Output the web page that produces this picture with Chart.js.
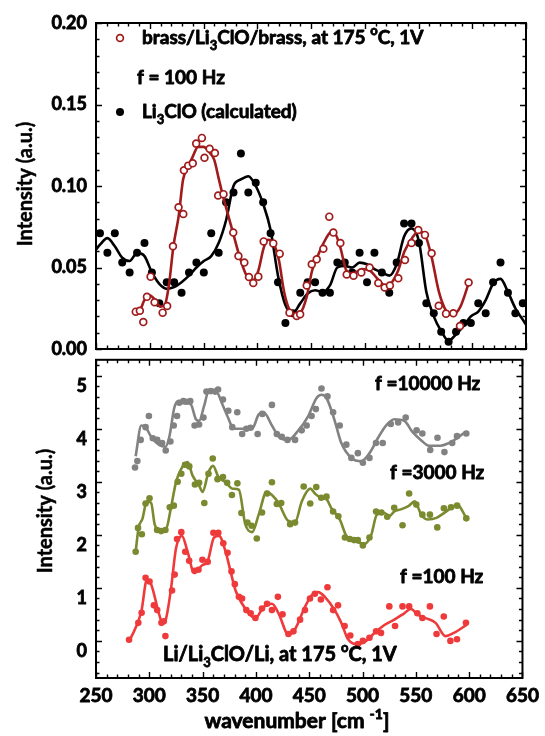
<!DOCTYPE html>
<html><head><meta charset="utf-8">
<script src="https://cdn.jsdelivr.net/npm/chart.js@4.4.1/dist/chart.umd.min.js"></script>
<style>
html,body{margin:0;padding:0;background:#fff;}
#wrap{position:relative;width:545px;height:736px;overflow:hidden;background:#fff;}
canvas{position:absolute;left:0;}
</style>
</head><body>
<div id="wrap">
<canvas id="top" width="545" height="370" style="top:0px"></canvas>
<canvas id="bot" width="545" height="396" style="top:340px"></canvas>
</div>
<script>
// ---------------- data ----------------
const xTicks = [250, 300, 350, 400, 450, 500, 550, 600, 650];
const xTickLabels = ['250', '300', '350', '400', '450', '500', '550', '600', '650'];
const yTopTicks = [0, 0.05, 0.10, 0.15, 0.20];
const yTopLabels = ['0.00', '0.05', '0.10', '0.15', '0.20'];
const yBotTicks = [0, 1, 2, 3, 4, 5];
const yBotLabels = ['0', '1', '2', '3', '4', '5'];

// top panel: Li3ClO (calculated) - black dots
const calcX = [253.7,260.6,267.5,274.4,281.3,288.2,295.1,302.0,308.9,315.8,322.7,329.6,336.5,343.4,350.3,357.2,364.1,371.0,377.9,384.8,391.7,398.6,405.5,412.4,419.3,426.2,433.1,440.0,446.9,453.8,460.7,467.6,474.5,481.4,488.3,495.2,502.1,509.0,515.9,522.8,529.7,536.6,543.5,550.4,557.3,564.2,571.1,578.0,584.9,591.8,598.7,605.6,612.5,619.4,626.3,633.2,640.1,647.0];
const calcY = [0.071,0.059,0.071,0.053,0.047,0.059,0.065,0.047,0.028,0.041,0.041,0.0345,0.047,0.053,0.047,0.071,0.059,0.090,0.096,0.120,0.096,0.102,0.090,0.071,0.041,0.016,0.022,0.0345,0.041,0.041,0.0345,0.0345,0.053,0.053,0.047,0.059,0.041,0.059,0.047,0.0345,0.053,0.077,0.077,0.065,0.028,0.022,0.0106,0.0045,0.0106,0.016,0.016,0.028,0.022,0.041,0.053,0.0345,0.022,0.028];
const calcFitX = [250,253.7,260.6,267.5,274.4,281.3,288.2,295.1,302.0,308.9,315.8,322.7,329.6,336.5,343.4,350.3,357.2,364.1,371.0,377.9,384.8,391.7,398.6,405.5,412.4,419.3,426.2,433.1,440.0,446.9,453.8,460.7,467.6,474.5,481.4,488.3,495.2,502.1,509.0,515.9,522.8,529.7,536.6,543.5,550.4,557.3,564.2,571.1,578.0,584.9,591.8,598.7,605.6,612.5,619.4,626.3,633.2,640.1,647.0,650];
const calcFitY = [0.061,0.064,0.068,0.063,0.056,0.054,0.059,0.057,0.047,0.040,0.037,0.038,0.041,0.045,0.050,0.054,0.057,0.065,0.079,0.100,0.104,0.106,0.100,0.089,0.073,0.045,0.027,0.022,0.028,0.034,0.036,0.035,0.039,0.050,0.051,0.050,0.053,0.052,0.049,0.047,0.045,0.052,0.069,0.074,0.066,0.035,0.020,0.011,0.005,0.009,0.014,0.020,0.023,0.030,0.040,0.043,0.035,0.025,0.018,0.015];

// top panel: brass/Li3ClO/brass - open red circles
const brassX = [287.0,290.8,294.0,297.4,300.8,304.5,312.0,316.2,321.6,326.8,331.2,331.8,335.8,340.0,343.2,348.5,350.9,355.7,360.6,363.6,368.6,377.7,382.5,388.0,392.3,396.3,401.0,406.0,414.9,420.9,430.0,436.7,439.9,446.0,450.7,455.3,461.5,467.0,470.8,477.3,483.2,489.6,496.8,504.5,512.6,518.5,523.4,531.2,537.4,543.5,549.8,556.0,562.2,568.8,575.6,582.4,588.6,596.6];
const brassY = [0.0229,0.0235,0.0165,0.032,0.0444,0.0287,0.0223,0.0264,0.063,0.087,0.0828,0.1097,0.1125,0.1139,0.126,0.1295,0.1173,0.1228,0.1202,0.0942,0.095,0.0714,0.057,0.053,0.0442,0.0405,0.0444,0.066,0.0648,0.0585,0.0223,0.0203,0.0213,0.039,0.052,0.055,0.0615,0.0812,0.0714,0.065,0.0457,0.045,0.047,0.050,0.0405,0.0377,0.039,0.0434,0.0546,0.065,0.073,0.070,0.0587,0.0265,0.0217,0.0219,0.0141,0.0408];
const brassFitX = [287,291,295,300,305,310,314,318,322,327,331,336,340,345,350,355,360,364,368,373,378,383,388,392,396,401,406,410,415,420,425,430,436,440,446,451,455,461,467,471,477,483,489,497,505,512,519,524,531,537,544,550,556,562,569,576,582,589,597];
const brassFitY = [0.023,0.024,0.030,0.033,0.030,0.026,0.027,0.040,0.063,0.082,0.104,0.112,0.118,0.124,0.124,0.121,0.116,0.105,0.094,0.082,0.070,0.058,0.048,0.043,0.042,0.048,0.062,0.067,0.065,0.055,0.035,0.024,0.021,0.022,0.032,0.048,0.055,0.064,0.071,0.072,0.063,0.048,0.046,0.049,0.048,0.043,0.039,0.040,0.048,0.060,0.068,0.072,0.070,0.057,0.035,0.023,0.021,0.026,0.041];

// bottom panel: f = 10000 Hz (grey)
const tenX = [286.6,288.8,291.9,296.5,299.6,303.3,307.4,312.0,315.4,319.8,322.9,326.0,328.1,331.9,334.4,338.4,342.5,346.7,350.8,353.6,357.6,361.6,364.5,369.1,374.1,377.8,382.5,387.1,391.0,394.9,401.6,406.0,415.0,419.6,424.3,429.6,436.7,442.9,447.6,452.2,456.2,461.5,467.1,472.4,478.6,484.8,489.5,495.6,500.3,506.5,512.6,518.9,526.5,533.4,540.5,550.7,556.1,563.5,570.3,576.8,584.1,588.6,597.3];
const tenY = [3.47,3.59,3.99,4.23,4.44,4.02,3.99,3.93,3.79,3.96,4.26,4.44,4.69,4.72,4.71,4.72,4.26,4.28,4.41,4.90,4.91,4.90,4.94,4.75,4.54,4.23,4.51,4.10,4.20,4.22,4.10,4.48,4.65,4.10,4.05,3.99,3.99,4.17,4.26,4.44,4.57,4.96,4.81,4.51,4.26,3.90,3.65,3.74,3.56,3.65,3.93,3.93,4.29,4.32,4.41,4.17,4.11,3.80,4.03,3.76,3.93,4.06,4.11];
const tenFitX = [287.2,292.5,296.5,301.7,309.5,315.1,318.8,323.5,327.5,334.4,339.0,343.7,346.7,351.4,355.5,363.8,368.5,373.2,379.4,387.1,396.4,402.6,407.3,415.0,422.8,430.5,439.8,449.1,456.9,461.5,466.2,473.9,480.1,489.5,498.8,506.5,514.3,522.0,529.8,539.1,546.8,554.6,562.3,573.2,580.9,588.7,596.4];
const tenFitY = [3.68,4.26,4.23,4.05,3.89,3.86,4.05,4.60,4.72,4.69,4.66,4.38,4.35,4.63,4.90,4.87,4.66,4.44,4.20,4.20,4.20,4.47,4.51,4.26,4.02,3.99,4.17,4.44,4.78,4.84,4.78,4.35,3.93,3.65,3.59,3.74,4.02,4.26,4.38,4.35,4.14,3.99,3.88,3.88,3.93,4.02,4.14];

// bottom panel: f = 3000 Hz (olive)
const threeX = [287.2,289.4,293.0,296.5,300.2,307.3,311.1,315.1,319.2,323.0,326.6,330.0,333.5,337.5,342.8,346.7,351.6,355.5,359.5,364.0,369.1,373.0,377.5,382.6,386.4,392.0,396.0,400.8,405.7,410.5,415.0,419.6,423.7,432.1,436.7,444.8,450.9,456.6,461.2,466.2,472.4,477.3,483.5,488.0,492.0,495.6,500.3,506.5,512.7,517.7,523.2,529.7,537.5,543.7,550.4,556.1,563.2,570.1,576.3,583.0,588.7,597.3];
const threeY = [1.88,2.33,2.21,2.79,2.89,2.29,2.27,2.29,2.72,2.75,3.20,3.35,3.52,3.49,3.15,3.18,2.80,3.35,3.64,3.25,3.29,3.18,2.95,3.17,2.61,2.43,2.37,2.13,2.62,2.98,3.19,2.78,2.80,2.40,2.43,3.11,2.79,3.10,2.90,2.92,2.64,2.55,2.15,2.12,2.10,2.10,2.00,2.15,2.64,2.62,2.54,2.71,2.38,2.98,2.77,2.58,2.58,2.34,2.70,2.72,2.75,2.51];
const threeFitX = [287.2,290.0,293.5,297.7,301.7,305.0,309.0,315.7,320.2,325.0,329.8,336.0,340.5,346.7,350.0,355.5,359.8,364.8,371.6,378.0,384.0,390.0,396.4,402.6,410.0,415.0,421.2,430.5,436.7,443.0,451.0,455.3,461.5,466.2,470.8,478.6,484.8,491.0,495.6,501.8,508.0,513.5,520.5,525.0,529.8,536.0,543.0,549.0,555.0,561.5,569.3,576.4,585.5,588.8,597.5];
const threeFitY = [1.88,2.34,2.50,2.83,2.80,2.40,2.28,2.31,2.70,3.19,3.44,3.57,3.32,3.13,3.01,3.38,3.50,3.29,3.19,3.07,3.05,2.40,2.25,2.58,3.01,2.95,2.80,2.46,2.44,2.83,3.07,2.98,2.89,2.87,2.70,2.49,2.18,2.09,2.06,2.03,2.19,2.58,2.61,2.55,2.64,2.68,2.74,2.83,2.58,2.49,2.52,2.61,2.74,2.77,2.51];

// bottom panel: f = 100 Hz (red)
const hundX = [281.0,289.7,292.8,296.5,300.2,304.3,307.4,311.4,313.6,315.1,321.3,323.8,326.0,330.0,333.7,337.4,342.4,346.1,349.8,354.8,360.1,364.7,369.4,373.4,377.1,380.2,384.0,387.0,391.0,395.1,399.5,405.7,410.4,415.0,420.6,425.0,430.5,435.2,441.4,446.0,450.7,455.3,460.9,467.1,472.4,477.0,483.2,488.5,495.6,500.3,506.5,512.7,517.3,525.1,530.5,537.5,543.7,551.4,556.1,563.2,569.4,576.2,582.4,588.6,597.0];
const hundY = [0.22,0.54,0.73,1.39,1.32,0.87,0.78,0.54,0.57,0.29,1.15,1.45,2.12,2.25,1.88,1.71,1.52,1.54,1.73,1.69,2.24,2.24,2.04,1.86,1.51,1.27,1.03,1.00,0.78,0.72,0.63,0.81,0.90,0.78,1.03,0.70,0.33,0.38,0.60,0.78,1.00,1.09,0.98,1.21,0.78,0.87,0.48,0.30,0.14,0.20,0.26,0.38,0.35,0.85,0.48,0.85,0.85,0.72,0.63,0.85,0.33,0.66,0.20,0.23,0.54];
const hundFitX = [281.4,292.5,297.7,301.7,309.5,312.6,315.7,320.4,325.0,330.6,335.9,342.1,349.8,354.5,360.7,365.4,371.6,376.2,380.9,387.1,393.3,399.5,407.3,415.0,421.2,430.5,436.7,446.0,452.2,458.4,464.6,473.9,480.1,486.4,495.7,503.4,511.2,520.5,529.8,539.1,545.3,551.5,559.2,568.5,577.8,585.6,597.4];
const hundFitY = [0.20,0.75,1.35,1.27,0.68,0.53,0.62,1.19,1.94,2.18,1.88,1.48,1.63,1.69,2.15,2.18,1.88,1.51,1.15,0.90,0.72,0.63,0.84,0.90,0.72,0.32,0.42,0.84,1.06,1.12,1.03,0.78,0.54,0.23,0.14,0.20,0.35,0.50,0.60,0.72,0.80,0.70,0.63,0.54,0.29,0.35,0.50];

// ---------------- helpers ----------------
const C_BLACK = '#000000', C_DRED = '#a01c1c', C_GREY = '#828282', C_OLIVE = '#7a8a2f', C_RED = '#ef3a3c';
const FONT = 'Lato, "Open Sans", sans-serif';
const W = 'bold';
const SW = 0.8; // extra stroke to mimic the heavy face of the original
const pts = (xs, ys) => xs.map((x, i) => ({x: x, y: ys[i]}));

function drawRich(ctx, x, y, parts, size, align) {
  ctx.save();
  ctx.fillStyle = '#000';
  ctx.strokeStyle = '#000';
  ctx.lineWidth = SW;
  ctx.lineJoin = 'round';
  ctx.textBaseline = 'alphabetic';
  ctx.textAlign = 'left';
  const small = Math.round(size * 0.66);
  const fonts = parts.map(p => W + ' ' + (p[1] === 'n' ? size : small) + 'px ' + FONT);
  let total = 0;
  parts.forEach((p, i) => { ctx.font = fonts[i]; total += ctx.measureText(p[0]).width; });
  let cx = align === 'center' ? x - total / 2 : (align === 'right' ? x - total : x);
  parts.forEach((p, i) => {
    ctx.font = fonts[i];
    const dy = p[1] === 'sub' ? size * 0.32 : (p[1] === 'sup' ? -size * 0.45 : 0);
    ctx.fillText(p[0], cx, y + dy);
    ctx.strokeText(p[0], cx, y + dy);
    cx += ctx.measureText(p[0]).width;
  });
  ctx.restore();
}
function drawVTitle(ctx, x, y, text, size) {
  ctx.save();
  ctx.translate(x, y);
  ctx.rotate(-Math.PI / 2);
  ctx.font = W + ' ' + size + 'px ' + FONT;
  ctx.fillStyle = '#000';
  ctx.strokeStyle = '#000';
  ctx.lineWidth = SW * 0.6;
  ctx.textAlign = 'center';
  ctx.textBaseline = 'middle';
  ctx.fillText(text, 0, 0);
  ctx.strokeText(text, 0, 0);
  ctx.restore();
}

function makeFrame(cfg) {
  return {
    id: 'frame' + cfg.name,
    afterDraw(chart) {
      const ctx = chart.ctx, a = chart.chartArea, xs = chart.scales.x, ys = chart.scales.y;
      ctx.save();
      ctx.strokeStyle = '#000';
      ctx.lineWidth = 1.4;
      ctx.beginPath();
      const nx = Math.round((cfg.xMax - cfg.xMin) / cfg.xMinor);
      for (let i = 0; i <= nx; i++) {
        const v = cfg.xMin + i * cfg.xMinor;
        const major = (i % cfg.xEvery) === 0;
        const len = major ? 6 : 3.5;
        const px = Math.round(xs.getPixelForValue(v)) + 0.5;
        ctx.moveTo(px, a.bottom); ctx.lineTo(px, a.bottom - len);
        ctx.moveTo(px, a.top); ctx.lineTo(px, a.top + len);
      }
      const ny = Math.round((cfg.yMax - cfg.yMin) / cfg.yMinor);
      for (let i = 0; i <= ny; i++) {
        const v = cfg.yMin + i * cfg.yMinor;
        const major = ((i + cfg.yOffset) % cfg.yEvery) === 0;
        const len = major ? 6 : 3.5;
        const py = Math.round(ys.getPixelForValue(v)) + 0.5;
        ctx.moveTo(a.left, py); ctx.lineTo(a.left + len, py);
        ctx.moveTo(a.right, py); ctx.lineTo(a.right - len, py);
      }
      ctx.stroke();
      ctx.lineWidth = 2;
      ctx.strokeRect(a.left, a.top, a.right - a.left, a.bottom - a.top);
      ctx.restore();
      cfg.text(ctx);
    }
  };
}

const baseY = (ticks, labels, min, max, pad) => ({
  type: 'linear', min: min, max: max,
  afterBuildTicks: s => { s.ticks = ticks.map(v => ({value: v})); },
  afterFit: s => { s.width = 96; },
  ticks: {callback: (v, i) => labels[i], color: '#000', padding: pad, autoSkip: false,
          textStrokeColor: '#000', textStrokeWidth: SW,
          font: {family: FONT, weight: W, size: 18}},
  grid: {display: false, drawTicks: false},
  border: {display: false}
});

Chart.defaults.animation = false;
Chart.defaults.events = [];
const LINE = {showLine: true, pointRadius: 0, borderWidth: 2.6, cubicInterpolationMode: 'monotone'};

// ---------------- top chart ----------------
new Chart(document.getElementById('top'), {
  type: 'scatter',
  data: {datasets: [
    {data: pts(brassX, brassY), showLine: false, pointRadius: 3.4, pointBorderWidth: 1.7,
     pointBorderColor: C_DRED, pointBackgroundColor: '#fff', order: 0},
    Object.assign({data: pts(brassFitX, brassFitY), borderColor: C_DRED, order: 1}, LINE),
    {data: pts(calcX, calcY), showLine: false, pointRadius: 4, pointBorderWidth: 0,
     pointBackgroundColor: C_BLACK, order: 2},
    Object.assign({data: pts(calcFitX, calcFitY), borderColor: C_BLACK, order: 3}, LINE)
  ]},
  options: {
    responsive: false,
    layout: {padding: {left: 0, right: 19, top: 23, bottom: 21}},
    plugins: {legend: {display: false}, tooltip: {enabled: false}},
    scales: {
      x: {type: 'linear', min: xTicks[0], max: xTicks[xTicks.length - 1], display: false},
      y: baseY(yTopTicks, yTopLabels, 0, 0.2, 9)
    }
  },
  plugins: [makeFrame({name: 'T', xMin: 250, xMax: 650, xMinor: 10, xEvery: 5,
    yMin: 0, yMax: 0.2, yMinor: 0.01, yEvery: 5, yOffset: 0,
    text: ctx => {
      drawVTitle(ctx, 26, 184, 'Intensity (a.u.)', 20);
      ctx.save();
      ctx.beginPath(); ctx.arc(120, 38, 3.4, 0, Math.PI * 2);
      ctx.fillStyle = '#fff'; ctx.fill(); ctx.lineWidth = 1.7; ctx.strokeStyle = C_DRED; ctx.stroke();
      ctx.beginPath(); ctx.arc(120, 112, 4, 0, Math.PI * 2); ctx.fillStyle = '#000'; ctx.fill();
      ctx.restore();
      drawRich(ctx, 142, 44, [['brass/Li', 'n'], ['3', 'sub'], ['ClO/brass, at 175 ', 'n'], ['o', 'sup'], ['C, 1V', 'n']], 19, 'left');
      drawRich(ctx, 137, 84, [['f = 100 Hz', 'n']], 19, 'left');
      drawRich(ctx, 142, 118, [['Li', 'n'], ['3', 'sub'], ['ClO (calculated)', 'n']], 19, 'left');
    }})]
});

// ---------------- bottom chart ----------------
const OFF = 340;
new Chart(document.getElementById('bot'), {
  type: 'scatter',
  data: {datasets: [
    {data: pts(tenX, tenY), showLine: false, pointRadius: 3.3, pointBorderWidth: 0, pointBackgroundColor: C_GREY},
    Object.assign({data: pts(tenFitX, tenFitY), borderColor: C_GREY}, LINE),
    {data: pts(threeX, threeY), showLine: false, pointRadius: 3.3, pointBorderWidth: 0, pointBackgroundColor: C_OLIVE},
    Object.assign({data: pts(threeFitX, threeFitY), borderColor: C_OLIVE}, LINE),
    {data: pts(hundX, hundY), showLine: false, pointRadius: 3.3, pointBorderWidth: 0, pointBackgroundColor: C_RED},
    Object.assign({data: pts(hundFitX, hundFitY), borderColor: C_RED}, LINE)
  ]},
  options: {
    responsive: false,
    layout: {padding: {left: 0, right: 19, top: 10, bottom: 0}},
    plugins: {legend: {display: false}, tooltip: {enabled: false}},
    scales: {
      x: {type: 'linear', min: xTicks[0], max: xTicks[xTicks.length - 1],
          afterBuildTicks: s => { s.ticks = xTicks.map(v => ({value: v})); },
          afterFit: s => { s.height = 58; },
          ticks: {callback: (v, i) => xTickLabels[i], color: '#000', padding: 6, maxRotation: 0, autoSkip: false,
                  textStrokeColor: '#000', textStrokeWidth: SW,
                  font: {family: FONT, weight: W, size: 19}},
          grid: {display: false, drawTicks: false}, border: {display: false}},
      y: baseY(yBotTicks, yBotLabels, -0.5, 5.5, 9)
    }
  },
  plugins: [makeFrame({name: 'B', xMin: 250, xMax: 650, xMinor: 10, xEvery: 5,
    yMin: -0.4, yMax: 5.4, yMinor: 0.2, yEvery: 5, yOffset: 2,
    text: ctx => {
      drawVTitle(ctx, 46, 511 - OFF, 'Intensity (a.u.)', 20);
      drawRich(ctx, 375, 390 - OFF, [['f =10000 Hz', 'n']], 19, 'left');
      drawRich(ctx, 390, 479 - OFF, [['f =3000 Hz', 'n']], 19, 'left');
      drawRich(ctx, 400, 583 - OFF, [['f =100 Hz', 'n']], 19, 'left');
      drawRich(ctx, 163, 661 - OFF, [['Li/Li', 'n'], ['3', 'sub'], ['ClO/Li, at 175 ', 'n'], ['o', 'sup'], ['C, 1V', 'n']], 20, 'left');
      drawRich(ctx, 297, 728 - OFF, [['wavenumber [cm ', 'n'], ['-1', 'sup'], [']', 'n']], 21, 'center');
    }})]
});
</script>
</body></html>
